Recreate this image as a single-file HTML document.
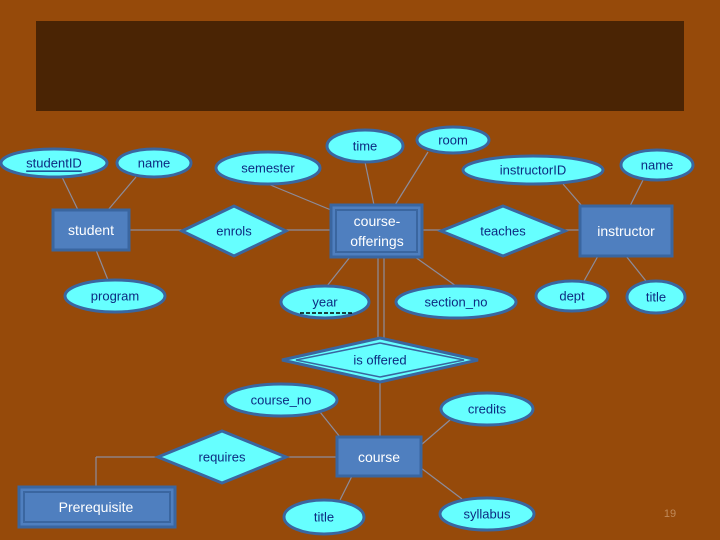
<!DOCTYPE html>
<html><head><meta charset="utf-8"><style>
html,body{margin:0;padding:0;background:#964a0a}
svg{display:block}
text{font-family:"Liberation Sans",sans-serif;fill:#0d2a80;font-size:13px;text-anchor:middle;dominant-baseline:central}
.w{fill:#fff;font-size:14px}
.e{fill:#66ffff;stroke:#3a66a0;stroke-width:3}
.r{fill:#4f7fbf;stroke:#3a66a0;stroke-width:3}
.l{stroke:#8c8c9c;stroke-width:1.2;fill:none}
</style></head><body>
<svg width="720" height="540" viewBox="0 0 720 540">
<rect width="720" height="540" fill="#964a0a"/>
<rect x="36" y="21" width="648" height="90" fill="#4a2404"/>
<g class="l">
<line x1="62" y1="177" x2="78" y2="210"/>
<line x1="136" y1="177" x2="108" y2="210"/>
<line x1="96" y1="250" x2="108" y2="280"/>
<line x1="129" y1="230" x2="182" y2="230"/>
<line x1="286" y1="230" x2="331" y2="230"/>
<line x1="268" y1="184" x2="331" y2="210"/>
<line x1="365" y1="162" x2="374" y2="205"/>
<line x1="428" y1="152" x2="395" y2="205"/>
<line x1="422" y1="230" x2="441" y2="230"/>
<line x1="565" y1="230" x2="580" y2="230"/>
<line x1="563" y1="184" x2="582" y2="206"/>
<line x1="643" y1="180" x2="630" y2="206"/>
<line x1="598" y1="256" x2="584" y2="281"/>
<line x1="626" y1="256" x2="646" y2="281"/>
<line x1="350" y1="257" x2="327" y2="286"/>
<line x1="415" y1="257" x2="456" y2="286"/>
<line x1="378" y1="257" x2="378" y2="340"/>
<line x1="384" y1="257" x2="384" y2="340"/>
<line x1="380" y1="380" x2="380" y2="437"/>
<line x1="320" y1="412" x2="340" y2="437"/>
<line x1="450" y1="420" x2="421" y2="445"/>
<line x1="286" y1="457" x2="337" y2="457"/>
<line x1="158" y1="457" x2="96" y2="457"/>
<line x1="96" y1="457" x2="96" y2="487"/>
<line x1="352" y1="476" x2="340" y2="500"/>
<line x1="421" y1="468" x2="462" y2="499"/>
</g>
<rect class="r" x="53" y="210" width="76" height="40"/>
<text class="w" x="91" y="230">student</text>
<rect class="r" x="331" y="205" width="91" height="52"/>
<rect x="336" y="210" width="81" height="42" fill="none" stroke="#3a66a0" stroke-width="2"/>
<text class="w" x="377" y="221">course-</text>
<text class="w" x="377" y="241">offerings</text>
<rect class="r" x="580" y="206" width="92" height="50"/>
<text class="w" x="626" y="231">instructor</text>
<rect class="r" x="337" y="437" width="84" height="39"/>
<text class="w" x="379" y="457">course</text>
<rect class="r" x="19" y="487" width="156" height="40"/>
<rect x="24" y="492" width="146" height="30" fill="none" stroke="#3a66a0" stroke-width="2"/>
<text class="w" x="96" y="507">Prerequisite</text>
<polygon class="e" points="182,231 234,206 286,231 234,256"/>
<text x="234" y="231">enrols</text>
<polygon class="e" points="441,231 503,206 565,231 503,256"/>
<text x="503" y="231">teaches</text>
<polygon class="e" points="282,360 380,338 478,360 380,382"/>
<polygon points="296,360 380,343 464,360 380,377" fill="none" stroke="#3a66a0" stroke-width="1.5"/>
<text x="380" y="360">is offered</text>
<polygon class="e" points="158,457 222,431 286,457 222,483"/>
<text x="222" y="457">requires</text>
<ellipse class="e" cx="54" cy="163" rx="53" ry="14"/><text x="54" y="163" text-decoration="underline">studentID</text>
<ellipse class="e" cx="154" cy="163" rx="37" ry="14"/><text x="154" y="163">name</text>
<ellipse class="e" cx="268" cy="168" rx="52" ry="16"/><text x="268" y="168">semester</text>
<ellipse class="e" cx="365" cy="146" rx="38" ry="16"/><text x="365" y="146">time</text>
<ellipse class="e" cx="453" cy="140" rx="36" ry="13"/><text x="453" y="140">room</text>
<ellipse class="e" cx="533" cy="170" rx="70" ry="14"/><text x="533" y="170">instructorID</text>
<ellipse class="e" cx="657" cy="165" rx="36" ry="15"/><text x="657" y="165">name</text>
<ellipse class="e" cx="115" cy="296" rx="50" ry="16"/><text x="115" y="296">program</text>
<ellipse class="e" cx="325" cy="302" rx="44" ry="16"/><text x="325" y="302">year</text>
<line x1="300" y1="313" x2="352" y2="313" stroke="#000" stroke-width="1.5" stroke-dasharray="4,2"/>
<ellipse class="e" cx="456" cy="302" rx="60" ry="16"/><text x="456" y="302">section_no</text>
<ellipse class="e" cx="572" cy="296" rx="36" ry="15"/><text x="572" y="296">dept</text>
<ellipse class="e" cx="656" cy="297" rx="29" ry="16"/><text x="656" y="297">title</text>
<ellipse class="e" cx="281" cy="400" rx="56" ry="16"/><text x="281" y="400">course_no</text>
<ellipse class="e" cx="487" cy="409" rx="46" ry="16"/><text x="487" y="409">credits</text>
<ellipse class="e" cx="324" cy="517" rx="40" ry="17"/><text x="324" y="517">title</text>
<ellipse class="e" cx="487" cy="514" rx="47" ry="16"/><text x="487" y="514">syllabus</text>
<text x="670" y="514" style="fill:#c08a5a;font-size:11px">19</text>
</svg>
</body></html>
